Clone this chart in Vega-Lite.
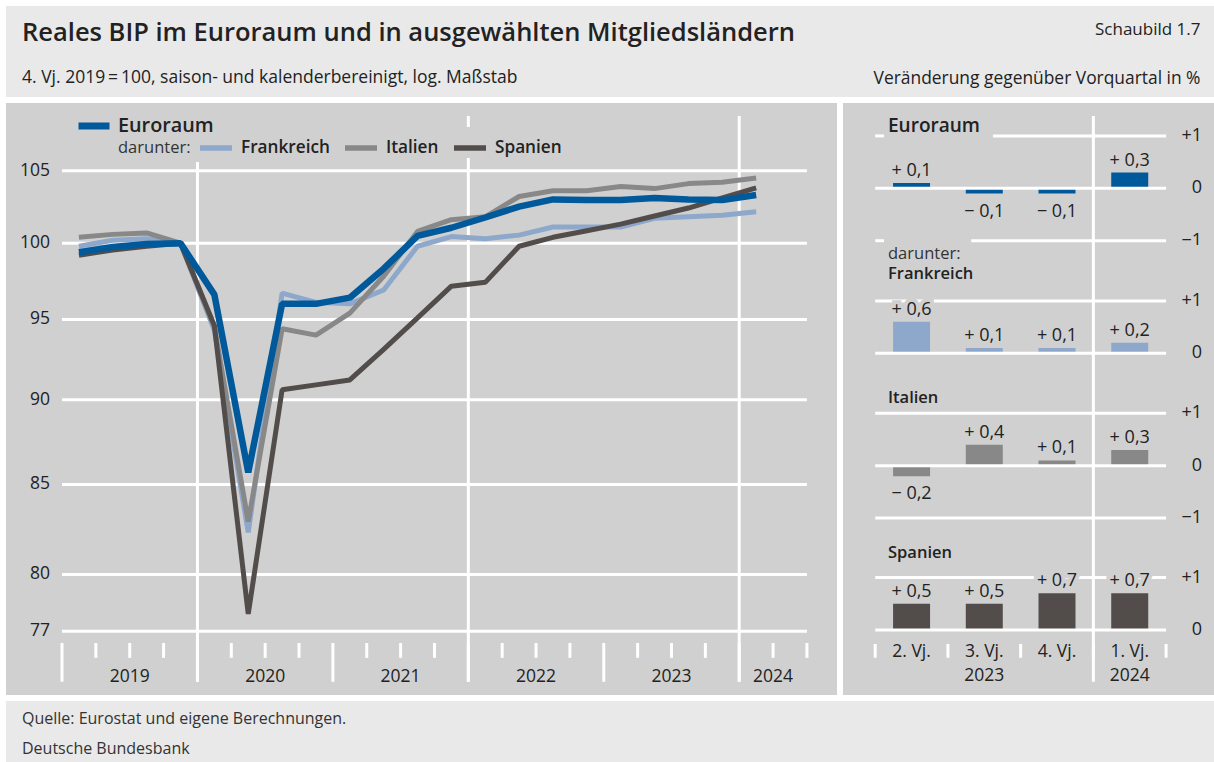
{
  "$schema": "https://vega.github.io/schema/vega-lite/v6.json",
  "background": "#ffffff",
  "padding": {"left": 6, "top": 6, "right": 0, "bottom": 0},
  "config": {
    "font": "Open Sans",
    "view": {"stroke": null},
    "axis": {"disable": true},
    "title": {"font": "Open Sans", "subtitleFont": "Open Sans", "color": "#222222", "subtitleColor": "#222222", "anchor": "start", "frame": "group", "orient": "bottom", "baseline": "top"}
  },
  "datasets": {
    "bip": [
      {"quartal": "2019-Q1", "t": 0.5, "Euroraum": 99.4, "Frankreich": 99.8, "Italien": 100.4, "Spanien": 99.2},
      {"quartal": "2019-Q2", "t": 1.5, "Euroraum": 99.75, "Frankreich": 100.2, "Italien": 100.6, "Spanien": 99.55},
      {"quartal": "2019-Q3", "t": 2.5, "Euroraum": 99.95, "Frankreich": 100.3, "Italien": 100.7, "Spanien": 99.8},
      {"quartal": "2019-Q4", "t": 3.5, "Euroraum": 100, "Frankreich": 100, "Italien": 100, "Spanien": 100},
      {"quartal": "2020-Q1", "t": 4.5, "Euroraum": 96.6, "Frankreich": 94.3, "Italien": 94.5, "Spanien": 94.6},
      {"quartal": "2020-Q2", "t": 5.5, "Euroraum": 85.7, "Frankreich": 82.3, "Italien": 82.9, "Spanien": 77.9},
      {"quartal": "2020-Q3", "t": 6.5, "Euroraum": 96.0, "Frankreich": 96.7, "Italien": 94.4, "Spanien": 90.6},
      {"quartal": "2020-Q4", "t": 7.5, "Euroraum": 96.0, "Frankreich": 96.1, "Italien": 94.0, "Spanien": 90.9},
      {"quartal": "2021-Q1", "t": 8.5, "Euroraum": 96.4, "Frankreich": 96.0, "Italien": 95.4, "Spanien": 91.2},
      {"quartal": "2021-Q2", "t": 9.5, "Euroraum": 98.3, "Frankreich": 96.9, "Italien": 97.8, "Spanien": 93.1},
      {"quartal": "2021-Q3", "t": 10.5, "Euroraum": 100.5, "Frankreich": 99.8, "Italien": 100.8, "Spanien": 95.1},
      {"quartal": "2021-Q4", "t": 11.5, "Euroraum": 101.05, "Frankreich": 100.45, "Italien": 101.6, "Spanien": 97.15},
      {"quartal": "2022-Q1", "t": 12.5, "Euroraum": 101.75, "Frankreich": 100.3, "Italien": 101.8, "Spanien": 97.4},
      {"quartal": "2022-Q2", "t": 13.5, "Euroraum": 102.5, "Frankreich": 100.55, "Italien": 103.2, "Spanien": 99.8},
      {"quartal": "2022-Q3", "t": 14.5, "Euroraum": 103.0, "Frankreich": 101.1, "Italien": 103.6, "Spanien": 100.4},
      {"quartal": "2022-Q4", "t": 15.5, "Euroraum": 102.95, "Frankreich": 101.1, "Italien": 103.6, "Spanien": 100.85},
      {"quartal": "2023-Q1", "t": 16.5, "Euroraum": 102.95, "Frankreich": 101.1, "Italien": 103.9, "Spanien": 101.3},
      {"quartal": "2023-Q2", "t": 17.5, "Euroraum": 103.1, "Frankreich": 101.7, "Italien": 103.75, "Spanien": 101.85},
      {"quartal": "2023-Q3", "t": 18.5, "Euroraum": 103.0, "Frankreich": 101.8, "Italien": 104.1, "Spanien": 102.4},
      {"quartal": "2023-Q4", "t": 19.5, "Euroraum": 102.95, "Frankreich": 101.9, "Italien": 104.2, "Spanien": 103.1},
      {"quartal": "2024-Q1", "t": 20.5, "Euroraum": 103.3, "Frankreich": 102.15, "Italien": 104.5, "Spanien": 103.8}
    ],
    "veraenderung": [
      {"quartal": "2023-Q2", "q": 0, "Euroraum": 0.1, "Frankreich": 0.6, "Italien": -0.2, "Spanien": 0.5},
      {"quartal": "2023-Q3", "q": 1, "Euroraum": -0.1, "Frankreich": 0.1, "Italien": 0.4, "Spanien": 0.5},
      {"quartal": "2023-Q4", "q": 2, "Euroraum": -0.1, "Frankreich": 0.1, "Italien": 0.1, "Spanien": 0.7},
      {"quartal": "2024-Q1", "q": 3, "Euroraum": 0.3, "Frankreich": 0.2, "Italien": 0.3, "Spanien": 0.7}
    ]
  },
  "spacing": 6,
  "resolve": {"legend": {"color": "independent", "stroke": "independent"}},
  "vconcat": [
    {
      "spacing": 0,
      "hconcat": [
        {
          "width": 800, "height": 91,
          "view": {"fill": "#e9e9e9", "stroke": null},
          "data": {"values": []},
          "mark": "point",
          "encoding": {},
          "title": {"text": "Reales BIP im Euroraum und in ausgewählten Mitgliedsländern", "subtitle": "4. Vj. 2019\u2009=\u2009100, saison- und kalenderbereinigt, log. Maßstab", "fontSize": 25.5, "fontWeight": 600, "subtitleFontSize": 17.5, "subtitleFontWeight": "normal", "subtitlePadding": 22.9, "offset": -76, "dx": 16}
        },
        {
          "width": 408, "height": 91,
          "view": {"fill": "#e9e9e9", "stroke": null},
          "data": {"values": []},
          "mark": "point",
          "encoding": {},
          "title": {"text": "Schaubild 1.7", "subtitle": "Veränderung gegenüber Vorquartal in %", "anchor": "end", "fontSize": 17, "fontWeight": "normal", "subtitleFontSize": 17.4, "subtitleFontWeight": "normal", "subtitlePadding": 30.9, "offset": -75.4, "dx": -13.5}
        }
      ]
    },
    {
      "spacing": 6,
      "resolve": {"legend": {"color": "independent", "stroke": "independent"}},
      "hconcat": [
        {
          "width": 831, "height": 592,
          "view": {"fill": "#d0d0d0", "stroke": null},
          "layer": [
            {
              "data": {"values": [{"v": 77}, {"v": 80}, {"v": 85}, {"v": 90}, {"v": 95}, {"v": 100}, {"v": 105}]},
              "mark": {"type": "rule", "color": "#ffffff", "strokeWidth": 3},
              "encoding": {
                "y": {"field": "v", "type": "quantitative", "scale": {"type": "log", "domain": [73.76, 109.91], "nice": false}, "axis": null},
                "x": {"datum": 0, "type": "quantitative", "scale": {"domain": [-1.654, 22.888], "nice": false, "zero": false}, "axis": null},
                "x2": {"datum": 22}
              }
            },
            {
              "data": {"values": [{"v": 77}, {"v": 80}, {"v": 85}, {"v": 90}, {"v": 95}, {"v": 100}, {"v": 105}]},
              "mark": {"type": "text", "fontSize": 17.5, "color": "#222222", "align": "right", "baseline": "middle"},
              "encoding": {
                "y": {"field": "v", "type": "quantitative", "scale": {"type": "log", "domain": [73.76, 109.91], "nice": false}, "axis": null},
                "x": {"datum": -0.354, "type": "quantitative", "scale": {"domain": [-1.654, 22.888], "nice": false, "zero": false}, "axis": null},
                "text": {"field": "v", "type": "quantitative", "format": "d"}
              }
            },
            {
              "data": {"values": [{}]},
              "mark": {"type": "rule", "color": "#ffffff", "strokeWidth": 3},
              "encoding": {
                "x": {"datum": 4, "type": "quantitative", "scale": {"domain": [-1.654, 22.888], "nice": false, "zero": false}, "axis": null},
                "y": {"datum": 105.63, "type": "quantitative", "scale": {"type": "log", "domain": [73.76, 109.91], "nice": false}, "axis": null},
                "y2": {"datum": 74.42}
              }
            },
            {
              "data": {"values": [{}]},
              "mark": {"type": "rule", "color": "#ffffff", "strokeWidth": 3},
              "encoding": {
                "x": {"datum": 12, "type": "quantitative", "scale": {"domain": [-1.654, 22.888], "nice": false, "zero": false}, "axis": null},
                "y": {"datum": 108.95, "type": "quantitative", "scale": {"type": "log", "domain": [73.76, 109.91], "nice": false}, "axis": null},
                "y2": {"datum": 108.15}
              }
            },
            {
              "data": {"values": [{}]},
              "mark": {"type": "rule", "color": "#ffffff", "strokeWidth": 3},
              "encoding": {
                "x": {"datum": 12, "type": "quantitative", "scale": {"domain": [-1.654, 22.888], "nice": false, "zero": false}, "axis": null},
                "y": {"datum": 105.92, "type": "quantitative", "scale": {"type": "log", "domain": [73.76, 109.91], "nice": false}, "axis": null},
                "y2": {"datum": 74.42}
              }
            },
            {
              "data": {"values": [{}]},
              "mark": {"type": "rule", "color": "#ffffff", "strokeWidth": 3},
              "encoding": {
                "x": {"datum": 20, "type": "quantitative", "scale": {"domain": [-1.654, 22.888], "nice": false, "zero": false}, "axis": null},
                "y": {"datum": 108.95, "type": "quantitative", "scale": {"type": "log", "domain": [73.76, 109.91], "nice": false}, "axis": null},
                "y2": {"datum": 74.42}
              }
            },
            {
              "data": {"values": [{"t": 0}, {"t": 4}, {"t": 8}, {"t": 12}, {"t": 16}, {"t": 20}]},
              "mark": {"type": "rule", "color": "#ffffff", "strokeWidth": 3},
              "encoding": {
                "x": {"field": "t", "type": "quantitative", "scale": {"domain": [-1.654, 22.888], "nice": false, "zero": false}, "axis": null},
                "y": {"datum": 76.39, "type": "quantitative", "scale": {"type": "log", "domain": [73.76, 109.91], "nice": false}, "axis": null},
                "y2": {"datum": 74.42}
              }
            },
            {
              "data": {"values": [{"t": 1}, {"t": 2}, {"t": 3}, {"t": 5}, {"t": 6}, {"t": 7}, {"t": 9}, {"t": 10}, {"t": 11}, {"t": 13}, {"t": 14}, {"t": 15}, {"t": 17}, {"t": 18}, {"t": 19}, {"t": 21}, {"t": 22}]},
              "mark": {"type": "rule", "color": "#ffffff", "strokeWidth": 3},
              "encoding": {
                "x": {"field": "t", "type": "quantitative", "scale": {"domain": [-1.654, 22.888], "nice": false, "zero": false}, "axis": null},
                "y": {"datum": 76.39, "type": "quantitative", "scale": {"type": "log", "domain": [73.76, 109.91], "nice": false}, "axis": null},
                "y2": {"datum": 75.63}
              }
            },
            {
              "data": {"values": [{"jahr": "2019", "t": 2}, {"jahr": "2020", "t": 6}, {"jahr": "2021", "t": 10}, {"jahr": "2022", "t": 14}, {"jahr": "2023", "t": 18}, {"jahr": "2024", "t": 21}]},
              "mark": {"type": "text", "fontSize": 17.5, "color": "#222222", "baseline": "middle", "align": "center"},
              "encoding": {
                "x": {"field": "t", "type": "quantitative", "scale": {"domain": [-1.654, 22.888], "nice": false, "zero": false}, "axis": null},
                "y": {"datum": 74.65, "type": "quantitative", "scale": {"type": "log", "domain": [73.76, 109.91], "nice": false}, "axis": null},
                "text": {"field": "jahr"}
              }
            },
            {
              "data": {"name": "bip"},
              "transform": [
                {"fold": ["Euroraum", "Frankreich", "Italien", "Spanien"], "as": ["land", "v"]},
                {"filter": "datum.land !== 'Euroraum'"}
              ],
              "mark": {"type": "line", "strokeWidth": 5, "strokeJoin": "bevel"},
              "encoding": {
                "x": {"field": "t", "type": "quantitative", "scale": {"domain": [-1.654, 22.888], "nice": false, "zero": false}, "axis": null},
                "y": {"field": "v", "type": "quantitative", "scale": {"type": "log", "domain": [73.76, 109.91], "nice": false}, "axis": null},
                "color": {"field": "land", "type": "nominal", "scale": {"domain": ["Frankreich", "Italien", "Spanien"], "range": ["#8ea8cb", "#888888", "#524d4a"]},
                  "legend": {"orient": "none", "legendX": 112, "legendY": 26, "direction": "horizontal", "title": "darunter:", "titleOrient": "left", "titleFontSize": 16.5, "titleFontWeight": "normal", "titleColor": "#333333", "titlePadding": 6, "titleFont": "Open Sans", "titleBaseline": "line-top", "titleLineHeight": 8.5, "symbolType": "stroke", "symbolSize": 1024, "symbolStrokeWidth": 5.5, "labelFontSize": 17.2, "labelFontWeight": 600, "labelColor": "#222222", "labelFont": "Open Sans", "labelOffset": 6, "columnPadding": 4, "padding": 0}}
              }
            },
            {
              "data": {"name": "bip"},
              "transform": [
                {"fold": ["Euroraum", "Frankreich", "Italien", "Spanien"], "as": ["land", "v"]},
                {"filter": "datum.land === 'Euroraum'"}
              ],
              "mark": {"type": "line", "strokeWidth": 6.5, "strokeJoin": "bevel"},
              "encoding": {
                "x": {"field": "t", "type": "quantitative", "scale": {"domain": [-1.654, 22.888], "nice": false, "zero": false}, "axis": null},
                "y": {"field": "v", "type": "quantitative", "scale": {"type": "log", "domain": [73.76, 109.91], "nice": false}, "axis": null},
                "stroke": {"field": "land", "type": "nominal", "scale": {"domain": ["Euroraum"], "range": ["#00599b"]},
                  "legend": {"orient": "none", "legendX": 69, "legendY": 4, "title": null, "symbolType": "stroke", "symbolSize": 961, "symbolStrokeWidth": 7, "labelFontSize": 19.8, "labelFontWeight": 600, "labelColor": "#222222", "labelFont": "Open Sans", "labelOffset": 5, "padding": 0}}
              }
            }
          ]
        },
        {
          "spacing": 0,
          "bounds": "flush",
          "vconcat": [
            {
              "width": 371, "height": 142,
              "view": {"fill": "#d0d0d0", "stroke": null},
              "title": {"text": "Euroraum", "fontSize": 19, "fontWeight": 600, "offset": -133, "dx": 45},
              "data": {"name": "veraenderung"},
              "transform": [
                {"fold": ["Euroraum", "Frankreich", "Italien", "Spanien"], "as": ["land", "w"]},
                {"filter": "datum.land === 'Euroraum'"},
                {"calculate": "(datum.w > 0 ? '+ ' : '\u2212 ') + replace(format(abs(datum.w), '.1f'), '.', ',')", "as": "label"}
              ],
              "layer": [
                {
                  "mark": {"type": "bar", "width": 37, "color": "#00599b", "orient": "vertical"},
                  "encoding": {
                    "x": {"field": "q", "type": "quantitative", "scale": {"domain": [-0.874, 4.09], "nice": false, "zero": false}, "axis": null},
                    "y": {"field": "w", "type": "quantitative", "scale": {"domain": [-1.082, 1.628], "nice": false, "zero": false}, "axis": null},
                    "y2": {"datum": 0}
                  }
                },
                {
                  "data": {"values": [{"g": 0}]},
                  "mark": {"type": "rule", "color": "#ffffff", "strokeWidth": 3},
                  "encoding": {
                    "y": {"field": "g", "type": "quantitative", "scale": {"domain": [-1.082, 1.628], "nice": false, "zero": false}, "axis": null},
                    "x": {"datum": -0.5, "type": "quantitative", "scale": {"domain": [-0.874, 4.09], "nice": false, "zero": false}, "axis": null},
                    "x2": {"datum": 3.5}
                  }
                },
                {
                  "data": {"values": [{"g": 1}, {"g": -1}]},
                  "mark": {"type": "rule", "color": "#ffffff", "strokeWidth": 3},
                  "encoding": {
                    "y": {"field": "g", "type": "quantitative", "scale": {"domain": [-1.082, 1.628], "nice": false, "zero": false}, "axis": null},
                    "x": {"datum": -0.5, "type": "quantitative", "scale": {"domain": [-0.874, 4.09], "nice": false, "zero": false}, "axis": null},
                    "x2": {"datum": -0.38}
                  }
                },
                {
                  "data": {"values": [{"g": 1}]},
                  "mark": {"type": "rule", "color": "#ffffff", "strokeWidth": 3},
                  "encoding": {
                    "y": {"field": "g", "type": "quantitative", "scale": {"domain": [-1.082, 1.628], "nice": false, "zero": false}, "axis": null},
                    "x": {"datum": 1.12, "type": "quantitative", "scale": {"domain": [-0.874, 4.09], "nice": false, "zero": false}, "axis": null},
                    "x2": {"datum": 3.5}
                  }
                },
                {
                  "data": {"values": [{"g": -1}]},
                  "mark": {"type": "rule", "color": "#ffffff", "strokeWidth": 3},
                  "encoding": {
                    "y": {"field": "g", "type": "quantitative", "scale": {"domain": [-1.082, 1.628], "nice": false, "zero": false}, "axis": null},
                    "x": {"datum": 0.82, "type": "quantitative", "scale": {"domain": [-0.874, 4.09], "nice": false, "zero": false}, "axis": null},
                    "x2": {"datum": 3.5}
                  }
                },
                {
                  "data": {"values": [{}]},
                  "mark": {"type": "rule", "color": "#ffffff", "strokeWidth": 3},
                  "encoding": {
                    "x": {"datum": 2.5, "type": "quantitative", "scale": {"domain": [-0.874, 4.09], "nice": false, "zero": false}, "axis": null},
                    "y": {"datum": 1.38, "type": "quantitative", "scale": {"domain": [-1.082, 1.628], "nice": false, "zero": false}, "axis": null},
                    "y2": {"datum": -1.082}
                  }
                },
                {
                  "data": {"values": [{"g": 1}, {"g": 0}, {"g": -1}]},
                  "transform": [{"calculate": "datum.g > 0 ? '+1' : (datum.g < 0 ? '\u22121' : '0')", "as": "lab"}],
                  "mark": {"type": "text", "align": "right", "baseline": "middle", "fontSize": 18, "color": "#222222"},
                  "encoding": {
                    "y": {"field": "g", "type": "quantitative", "scale": {"domain": [-1.082, 1.628], "nice": false, "zero": false}, "axis": null},
                    "x": {"datum": 3.996, "type": "quantitative", "scale": {"domain": [-0.874, 4.09], "nice": false, "zero": false}, "axis": null},
                    "text": {"field": "lab"}
                  }
                },
                {
                  "transform": [{"filter": "datum.w > 0"}],
                  "mark": {"type": "text", "baseline": "alphabetic", "dy": -7, "fontSize": 18, "color": "#222222"},
                  "encoding": {
                    "x": {"field": "q", "type": "quantitative", "scale": {"domain": [-0.874, 4.09], "nice": false, "zero": false}, "axis": null},
                    "y": {"field": "w", "type": "quantitative", "scale": {"domain": [-1.082, 1.628], "nice": false, "zero": false}, "axis": null},
                    "text": {"field": "label"}
                  }
                },
                {
                  "transform": [{"filter": "datum.w < 0"}],
                  "mark": {"type": "text", "baseline": "alphabetic", "dy": 23, "fontSize": 18, "color": "#222222"},
                  "encoding": {
                    "x": {"field": "q", "type": "quantitative", "scale": {"domain": [-0.874, 4.09], "nice": false, "zero": false}, "axis": null},
                    "y": {"field": "w", "type": "quantitative", "scale": {"domain": [-1.082, 1.628], "nice": false, "zero": false}, "axis": null},
                    "text": {"field": "label"}
                  }
                }
              ]
            },
            {
              "width": 371, "height": 135,
              "view": {"fill": "#d0d0d0", "stroke": null},
              "title": {"text": "darunter:", "subtitle": "Frankreich", "fontSize": 16.5, "fontWeight": "normal", "color": "#333333", "subtitleFontSize": 16.5, "subtitleFontWeight": 600, "subtitlePadding": 3.5, "offset": -135.1, "dx": 45},
              "data": {"name": "veraenderung"},
              "transform": [
                {"fold": ["Euroraum", "Frankreich", "Italien", "Spanien"], "as": ["land", "w"]},
                {"filter": "datum.land === 'Frankreich'"},
                {"calculate": "(datum.w > 0 ? '+ ' : '\u2212 ') + replace(format(abs(datum.w), '.1f'), '.', ',')", "as": "label"}
              ],
              "layer": [
                {
                  "mark": {"type": "bar", "width": 37, "color": "#8ea8cb", "orient": "vertical"},
                  "encoding": {
                    "x": {"field": "q", "type": "quantitative", "scale": {"domain": [-0.874, 4.09], "nice": false, "zero": false}, "axis": null},
                    "y": {"field": "w", "type": "quantitative", "scale": {"domain": [-0.51, 2.067], "nice": false, "zero": false}, "axis": null},
                    "y2": {"datum": 0}
                  }
                },
                {
                  "data": {"values": [{"g": 1}, {"g": 0}]},
                  "mark": {"type": "rule", "color": "#ffffff", "strokeWidth": 3},
                  "encoding": {
                    "y": {"field": "g", "type": "quantitative", "scale": {"domain": [-0.51, 2.067], "nice": false, "zero": false}, "axis": null},
                    "x": {"datum": -0.5, "type": "quantitative", "scale": {"domain": [-0.874, 4.09], "nice": false, "zero": false}, "axis": null},
                    "x2": {"datum": 3.5}
                  }
                },
                {
                  "data": {"values": [{}]},
                  "mark": {"type": "rule", "color": "#ffffff", "strokeWidth": 3},
                  "encoding": {
                    "x": {"datum": 2.5, "type": "quantitative", "scale": {"domain": [-0.874, 4.09], "nice": false, "zero": false}, "axis": null}
                  }
                },
                {
                  "data": {"values": [{"g": 1}, {"g": 0}]},
                  "transform": [{"calculate": "datum.g > 0 ? '+1' : (datum.g < 0 ? '\u22121' : '0')", "as": "lab"}],
                  "mark": {"type": "text", "align": "right", "baseline": "middle", "fontSize": 18, "color": "#222222"},
                  "encoding": {
                    "y": {"field": "g", "type": "quantitative", "scale": {"domain": [-0.51, 2.067], "nice": false, "zero": false}, "axis": null},
                    "x": {"datum": 3.996, "type": "quantitative", "scale": {"domain": [-0.874, 4.09], "nice": false, "zero": false}, "axis": null},
                    "text": {"field": "lab"}
                  }
                },
                {
                  "transform": [{"filter": "datum.w > 0"}],
                  "mark": {"type": "text", "baseline": "alphabetic", "dy": -7, "fontSize": 18, "color": "#d0d0d0", "stroke": "#d0d0d0", "strokeWidth": 8},
                  "encoding": {
                    "x": {"field": "q", "type": "quantitative", "scale": {"domain": [-0.874, 4.09], "nice": false, "zero": false}, "axis": null},
                    "y": {"field": "w", "type": "quantitative", "scale": {"domain": [-0.51, 2.067], "nice": false, "zero": false}, "axis": null},
                    "text": {"field": "label"}
                  }
                },
                {
                  "transform": [{"filter": "datum.w > 0"}],
                  "mark": {"type": "text", "baseline": "alphabetic", "dy": -7, "fontSize": 18, "color": "#222222"},
                  "encoding": {
                    "x": {"field": "q", "type": "quantitative", "scale": {"domain": [-0.874, 4.09], "nice": false, "zero": false}, "axis": null},
                    "y": {"field": "w", "type": "quantitative", "scale": {"domain": [-0.51, 2.067], "nice": false, "zero": false}, "axis": null},
                    "text": {"field": "label"}
                  }
                }
              ]
            },
            {
              "width": 371, "height": 155,
              "view": {"fill": "#d0d0d0", "stroke": null},
              "title": {"text": "Italien", "fontSize": 16.5, "fontWeight": 600, "offset": -146.4, "dx": 45},
              "data": {"name": "veraenderung"},
              "transform": [
                {"fold": ["Euroraum", "Frankreich", "Italien", "Spanien"], "as": ["land", "w"]},
                {"filter": "datum.land === 'Italien'"},
                {"calculate": "(datum.w > 0 ? '+ ' : '\u2212 ') + replace(format(abs(datum.w), '.1f'), '.', ',')", "as": "label"}
              ],
              "layer": [
                {
                  "mark": {"type": "bar", "width": 37, "color": "#888888", "orient": "vertical"},
                  "encoding": {
                    "x": {"field": "q", "type": "quantitative", "scale": {"domain": [-0.874, 4.09], "nice": false, "zero": false}, "axis": null},
                    "y": {"field": "w", "type": "quantitative", "scale": {"domain": [-1.323, 1.635], "nice": false, "zero": false}, "axis": null},
                    "y2": {"datum": 0}
                  }
                },
                {
                  "data": {"values": [{"g": 1}, {"g": 0}, {"g": -1}]},
                  "mark": {"type": "rule", "color": "#ffffff", "strokeWidth": 3},
                  "encoding": {
                    "y": {"field": "g", "type": "quantitative", "scale": {"domain": [-1.323, 1.635], "nice": false, "zero": false}, "axis": null},
                    "x": {"datum": -0.5, "type": "quantitative", "scale": {"domain": [-0.874, 4.09], "nice": false, "zero": false}, "axis": null},
                    "x2": {"datum": 3.5}
                  }
                },
                {
                  "data": {"values": [{}]},
                  "mark": {"type": "rule", "color": "#ffffff", "strokeWidth": 3},
                  "encoding": {
                    "x": {"datum": 2.5, "type": "quantitative", "scale": {"domain": [-0.874, 4.09], "nice": false, "zero": false}, "axis": null}
                  }
                },
                {
                  "data": {"values": [{"g": 1}, {"g": 0}, {"g": -1}]},
                  "transform": [{"calculate": "datum.g > 0 ? '+1' : (datum.g < 0 ? '\u22121' : '0')", "as": "lab"}],
                  "mark": {"type": "text", "align": "right", "baseline": "middle", "fontSize": 18, "color": "#222222"},
                  "encoding": {
                    "y": {"field": "g", "type": "quantitative", "scale": {"domain": [-1.323, 1.635], "nice": false, "zero": false}, "axis": null},
                    "x": {"datum": 3.996, "type": "quantitative", "scale": {"domain": [-0.874, 4.09], "nice": false, "zero": false}, "axis": null},
                    "text": {"field": "lab"}
                  }
                },
                {
                  "transform": [{"filter": "datum.w > 0"}],
                  "mark": {"type": "text", "baseline": "alphabetic", "dy": -7, "fontSize": 18, "color": "#222222"},
                  "encoding": {
                    "x": {"field": "q", "type": "quantitative", "scale": {"domain": [-0.874, 4.09], "nice": false, "zero": false}, "axis": null},
                    "y": {"field": "w", "type": "quantitative", "scale": {"domain": [-1.323, 1.635], "nice": false, "zero": false}, "axis": null},
                    "text": {"field": "label"}
                  }
                },
                {
                  "transform": [{"filter": "datum.w < 0"}],
                  "mark": {"type": "text", "baseline": "alphabetic", "dy": 23, "fontSize": 18, "color": "#222222"},
                  "encoding": {
                    "x": {"field": "q", "type": "quantitative", "scale": {"domain": [-0.874, 4.09], "nice": false, "zero": false}, "axis": null},
                    "y": {"field": "w", "type": "quantitative", "scale": {"domain": [-1.323, 1.635], "nice": false, "zero": false}, "axis": null},
                    "text": {"field": "label"}
                  }
                }
              ]
            },
            {
              "width": 371, "height": 160,
              "view": {"fill": "#d0d0d0", "stroke": null},
              "title": {"text": "Spanien", "fontSize": 16.5, "fontWeight": 600, "offset": -150.1, "dx": 45},
              "data": {"name": "veraenderung"},
              "transform": [
                {"fold": ["Euroraum", "Frankreich", "Italien", "Spanien"], "as": ["land", "w"]},
                {"filter": "datum.land === 'Spanien'"},
                {"calculate": "(datum.w > 0 ? '+ ' : '\u2212 ') + replace(format(abs(datum.w), '.1f'), '.', ',')", "as": "label"}
              ],
              "layer": [
                {
                  "mark": {"type": "bar", "width": 37, "color": "#524d4a", "orient": "vertical"},
                  "encoding": {
                    "x": {"field": "q", "type": "quantitative", "scale": {"domain": [-0.874, 4.09], "nice": false, "zero": false}, "axis": null},
                    "y": {"field": "w", "type": "quantitative", "scale": {"domain": [-1.24, 1.813], "nice": false, "zero": false}, "axis": null},
                    "y2": {"datum": 0}
                  }
                },
                {
                  "data": {"values": [{"g": 1}, {"g": 0}]},
                  "mark": {"type": "rule", "color": "#ffffff", "strokeWidth": 3},
                  "encoding": {
                    "y": {"field": "g", "type": "quantitative", "scale": {"domain": [-1.24, 1.813], "nice": false, "zero": false}, "axis": null},
                    "x": {"datum": -0.5, "type": "quantitative", "scale": {"domain": [-0.874, 4.09], "nice": false, "zero": false}, "axis": null},
                    "x2": {"datum": 3.5}
                  }
                },
                {
                  "data": {"values": [{"g": -0.5}, {"g": 0.5}, {"g": 1.5}, {"g": 2.5}, {"g": 3.5}]},
                  "mark": {"type": "rule", "color": "#ffffff", "strokeWidth": 3},
                  "encoding": {
                    "x": {"field": "g", "type": "quantitative", "scale": {"domain": [-0.874, 4.09], "nice": false, "zero": false}, "axis": null},
                    "y": {"datum": -0.267, "type": "quantitative", "scale": {"domain": [-1.24, 1.813], "nice": false, "zero": false}, "axis": null},
                    "y2": {"datum": -0.529}
                  }
                },
                {
                  "data": {"values": [{}]},
                  "mark": {"type": "rule", "color": "#ffffff", "strokeWidth": 3},
                  "encoding": {
                    "x": {"datum": 2.5, "type": "quantitative", "scale": {"domain": [-0.874, 4.09], "nice": false, "zero": false}, "axis": null},
                    "y": {"datum": 1.813, "type": "quantitative", "scale": {"domain": [-1.24, 1.813], "nice": false, "zero": false}, "axis": null},
                    "y2": {"datum": -0.987}
                  }
                },
                {
                  "data": {"values": [{"g": 1}, {"g": 0}]},
                  "transform": [{"calculate": "datum.g > 0 ? '+1' : (datum.g < 0 ? '\u22121' : '0')", "as": "lab"}],
                  "mark": {"type": "text", "align": "right", "baseline": "middle", "fontSize": 18, "color": "#222222"},
                  "encoding": {
                    "y": {"field": "g", "type": "quantitative", "scale": {"domain": [-1.24, 1.813], "nice": false, "zero": false}, "axis": null},
                    "x": {"datum": 3.996, "type": "quantitative", "scale": {"domain": [-0.874, 4.09], "nice": false, "zero": false}, "axis": null},
                    "text": {"field": "lab"}
                  }
                },
                {
                  "data": {"values": [{"q": 0, "zeile": "2. Vj."}, {"q": 1, "zeile": "3. Vj."}, {"q": 2, "zeile": "4. Vj."}, {"q": 3, "zeile": "1. Vj."}]},
                  "mark": {"type": "text", "align": "center", "baseline": "middle", "fontSize": 17.5, "color": "#222222"},
                  "encoding": {
                    "x": {"field": "q", "type": "quantitative", "scale": {"domain": [-0.874, 4.09], "nice": false, "zero": false}, "axis": null},
                    "y": {"datum": -0.414, "type": "quantitative", "scale": {"domain": [-1.24, 1.813], "nice": false, "zero": false}, "axis": null},
                    "text": {"field": "zeile"}
                  }
                },
                {
                  "data": {"values": [{"q": 1, "zeile": "2023"}, {"q": 3, "zeile": "2024"}]},
                  "mark": {"type": "text", "align": "center", "baseline": "middle", "fontSize": 17.5, "color": "#222222"},
                  "encoding": {
                    "x": {"field": "q", "type": "quantitative", "scale": {"domain": [-0.874, 4.09], "nice": false, "zero": false}, "axis": null},
                    "y": {"datum": -0.878, "type": "quantitative", "scale": {"domain": [-1.24, 1.813], "nice": false, "zero": false}, "axis": null},
                    "text": {"field": "zeile"}
                  }
                },
                {
                  "transform": [{"filter": "datum.w > 0"}],
                  "mark": {"type": "text", "baseline": "alphabetic", "dy": -7, "fontSize": 18, "color": "#d0d0d0", "stroke": "#d0d0d0", "strokeWidth": 8},
                  "encoding": {
                    "x": {"field": "q", "type": "quantitative", "scale": {"domain": [-0.874, 4.09], "nice": false, "zero": false}, "axis": null},
                    "y": {"field": "w", "type": "quantitative", "scale": {"domain": [-1.24, 1.813], "nice": false, "zero": false}, "axis": null},
                    "text": {"field": "label"}
                  }
                },
                {
                  "transform": [{"filter": "datum.w > 0"}],
                  "mark": {"type": "text", "baseline": "alphabetic", "dy": -7, "fontSize": 18, "color": "#222222"},
                  "encoding": {
                    "x": {"field": "q", "type": "quantitative", "scale": {"domain": [-0.874, 4.09], "nice": false, "zero": false}, "axis": null},
                    "y": {"field": "w", "type": "quantitative", "scale": {"domain": [-1.24, 1.813], "nice": false, "zero": false}, "axis": null},
                    "text": {"field": "label"}
                  }
                }
              ]
            }
          ]
        }
      ]
    },
    {
      "width": 1208, "height": 61,
      "view": {"fill": "#e9e9e9", "stroke": null},
      "data": {"values": []},
      "mark": "point",
      "encoding": {},
      "title": {"text": "Quelle: Eurostat und eigene Berechnungen.", "subtitle": "Deutsche Bundesbank", "fontSize": 16, "fontWeight": "normal", "color": "#333333", "subtitleFontSize": 16, "subtitleColor": "#333333", "subtitlePadding": 14, "offset": -50.9, "dx": 16}
    }
  ]
}
